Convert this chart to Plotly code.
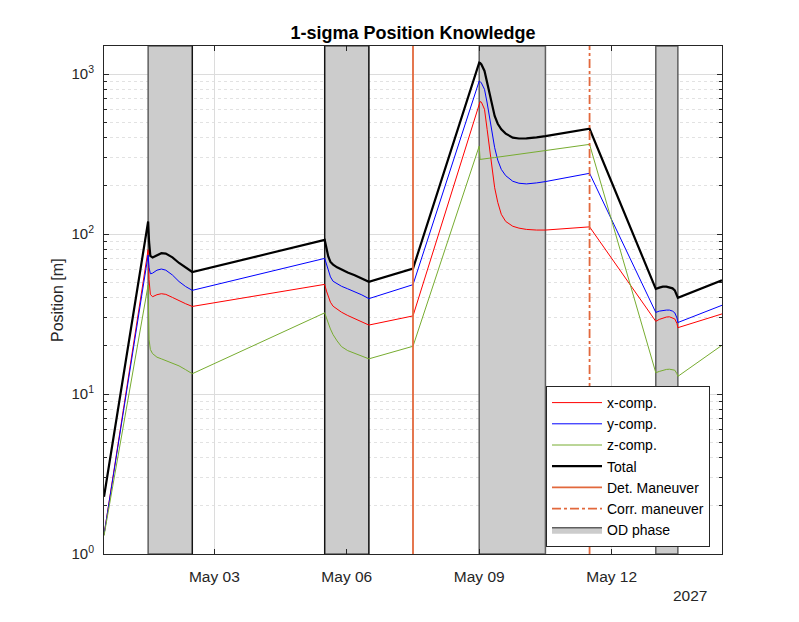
import math
import pandas as pd
import plotly.graph_objects as go

# time in days since 2027-04-30 12:00
t_days = [0, 1.0, 1.02, 1.05, 1.1, 1.2, 1.3, 1.4, 1.55, 1.7, 1.85, 2.0,
          5.0, 5.04, 5.08, 5.13, 5.19, 5.28, 5.38, 5.52, 5.68, 5.84, 6.0,
          7.0, 8.5, 8.52, 8.55, 8.62, 8.68, 8.73, 8.79, 8.85, 8.92, 9.0, 9.1,
          9.26, 9.4, 9.57, 9.8, 10.0, 11.0,
          12.5, 12.58, 12.66, 12.74, 12.81, 12.88, 12.93, 12.98, 13.0, 14.0]

x_comp = [1.32, 80, 52, 42, 40.6, 41.8, 42.4, 42, 40.2, 38.3, 36.7, 35.3,
          48.5, 44, 40.8, 37.5, 35.4, 33.8, 32.5, 31, 29.6, 28.3, 27.0,
          30.8, 665, 674, 668, 603, 450, 347, 255, 195, 158, 133, 120,
          112, 109, 107, 106, 106, 111,
          28.5, 29.3, 29.9, 30.3, 30.4, 30.0, 29.5, 27.6, 26.0, 31.7]

y_comp = [1.32, 74, 62, 56.5, 57, 59.5, 60.5, 59.5, 55.5, 50.5, 47, 44.5,
          70.5, 65, 60, 54, 50.7, 48.8, 47.2, 45.5, 43.8, 41.7, 39.5,
          48.3, 906, 900, 880, 804, 660, 535, 430, 347, 290, 254, 232,
          214, 208, 206, 209, 213, 240,
          32.4, 33.0, 33.3, 33.5, 33.5, 33.0, 32.2, 29.9, 28.0, 35.9]

z_comp = [1.3, 48, 22, 19, 17.9, 17, 16.6, 16.2, 15.6, 15, 14.2, 13.4,
          32.2, 29.5, 27.8, 25.5, 23.5, 21.5, 19.8, 18.7, 18.0, 17.3, 16.6,
          19.9, 355, 293, 294, 295, 297, 298, 300, 301, 303, 305, 308,
          312, 316, 320, 327, 333, 364,
          13.6, 13.85, 14.1, 14.25, 14.3, 14.25, 14.1, 13.4, 12.9, 20.2]

total = [2.28, 120, 90, 73, 71.5, 74, 76, 75.5, 71.5, 66, 61.5, 58,
         92, 80, 72.5, 67, 64.5, 62, 60, 57.5, 55.3, 52.8, 50.3,
         60.9, 1180, 1175, 1150, 1047, 880, 748, 640, 548, 490, 452, 425,
         401, 396, 397, 403, 410, 456,
         45.4, 46.3, 46.9, 46.9, 46.6, 45.8, 44.5, 41.7, 40.0, 51.5]

od_start = [1.0, 5.0, 8.5, 12.5]
od_end = [2.0, 6.0, 10.0, 13.0]
black_edges = [2.0, 5.0, 6.0]
det_maneuver = 7.0
corr_maneuver = 11.0

y_lim = [1, 1500]
x_ticks = ["2027-05-03", "2027-05-06", "2027-05-09", "2027-05-12"]
y_ticks = [1, 10, 100, 1000]
y_ticktext = ["10<sup>0</sup>", "10<sup>1</sup>", "10<sup>2</sup>", "10<sup>3</sup>"]

t0 = pd.Timestamp("2027-04-30 12:00")


def to_date(d):
    return t0 + pd.to_timedelta(d, unit="D")


dates = [to_date(d) for d in t_days]

# OD phase boxes as one filled trace
rx, ry = [], []
for s, e in zip(od_start, od_end):
    rx += [to_date(s), to_date(s), to_date(e), to_date(e), to_date(s), None]
    ry += [y_lim[0], y_lim[1], y_lim[1], y_lim[0], y_lim[0], None]

ex, ey = [], []
for e in black_edges:
    ex += [to_date(e), to_date(e), None]
    ey += [y_lim[0], y_lim[1], None]

fig = go.Figure()
fig.add_trace(go.Scatter(x=rx, y=ry, mode="lines", fill="toself",
                         fillcolor="#cccccc", line=dict(color="#5f5f5f", width=1.5),
                         name="OD phase", legendrank=7, hoverinfo="skip"))
fig.add_trace(go.Scatter(x=ex, y=ey, mode="lines", showlegend=False,
                         line=dict(color="#000000", width=1), hoverinfo="skip"))

fig.add_trace(go.Scatter(x=dates, y=x_comp, mode="lines", name="x-comp.",
                         line=dict(color="#ff0000", width=1), legendrank=1))
fig.add_trace(go.Scatter(x=dates, y=y_comp, mode="lines", name="y-comp.",
                         line=dict(color="#0000ff", width=1), legendrank=2))
fig.add_trace(go.Scatter(x=dates, y=z_comp, mode="lines", name="z-comp.",
                         line=dict(color="#77ac30", width=1), legendrank=3))
fig.add_trace(go.Scatter(x=dates, y=total, mode="lines", name="Total",
                         line=dict(color="#000000", width=2.2), legendrank=4))

fig.add_trace(go.Scatter(x=[to_date(det_maneuver)] * 2, y=y_lim, mode="lines",
                         name="Det. Maneuver", legendrank=5,
                         line=dict(color="#e2683c", width=1.8)))
fig.add_trace(go.Scatter(x=[to_date(corr_maneuver)] * 2, y=y_lim, mode="lines",
                         name="Corr. maneuver", legendrank=6,
                         line=dict(color="#e2683c", width=1.8, dash="dashdot")))

minor_vals = [k * 10 ** p for p in range(0, 4) for k in range(2, 10)]

# page body adds an 8px offset, margins compensate
fig.update_layout(
    width=799, height=622,
    margin=dict(l=96, r=85, t=38, b=76),
    paper_bgcolor="white", plot_bgcolor="white",
    font=dict(family="Liberation Sans, Arial", size=15, color="#262626"),
    title=dict(text="<b>1-sigma Position Knowledge</b>", x=0.5, xref="paper",
               xanchor="center", y=1 - 25 / 622, yanchor="middle",
               font=dict(size=18, color="#000000")),
    showlegend=True,
    legend=dict(x=(710 - 104) / 618, xanchor="right", y=(554 - 386) / 508,
                yanchor="top", bgcolor="white", bordercolor="#262626",
                borderwidth=1, font=dict(size=14, color="#000000"),
                itemwidth=50, tracegroupgap=0),
    xaxis=dict(type="date", range=[to_date(0), to_date(14)],
               tickvals=x_ticks, tickformat="%b %d",
               ticks="inside", ticklen=5, tickcolor="#262626",
               showline=True, linecolor="#262626", linewidth=1, mirror="ticks",
               showgrid=True, gridcolor="#dcdcdc", gridwidth=1,
               zeroline=False, ticklabelstandoff=8,
               tickfont=dict(size=15.5)),
    yaxis=dict(type="log", range=[0, math.log10(y_lim[1])],
               tickvals=y_ticks, ticktext=y_ticktext,
               ticks="inside", ticklen=5, tickcolor="#262626",
               showline=True, linecolor="#262626", linewidth=1, mirror="ticks",
               showgrid=True, gridcolor="#dcdcdc", gridwidth=1,
               minor=dict(tickmode="array", tickvals=minor_vals, ticks="inside",
                          ticklen=3, tickcolor="#262626", showgrid=True,
                          gridcolor="#e2e2e2", griddash="dot"),
               zeroline=False, ticklabelstandoff=6),
)

fig.add_annotation(text="Position [m]", x=(57 - 104) / 618, y=0.5,
                   xref="paper", yref="paper", textangle=-90, showarrow=False,
                   xanchor="center", yanchor="middle",
                   font=dict(size=16, color="#262626"))
fig.add_annotation(text="2027", x=(709 - 104) / 618, y=(554 - 595) / 508,
                   xref="paper", yref="paper", xanchor="right", yanchor="middle",
                   showarrow=False, font=dict(size=15.5, color="#262626"))

fig.write_html("out.html")
